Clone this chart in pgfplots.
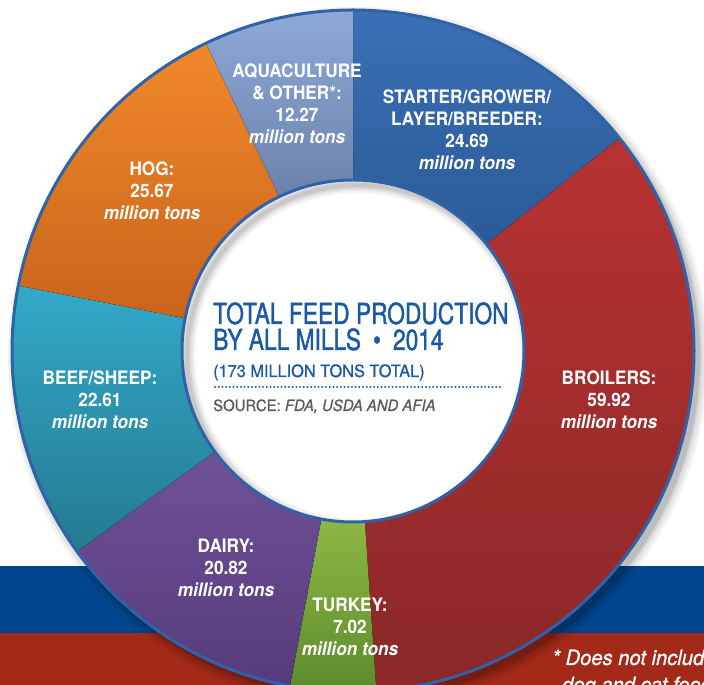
\documentclass[border=0pt]{standalone}
\usepackage{pgfplots}
\pgfplotsset{compat=1.18}
\usepackage{pgfplotstable}
\usepackage{fontspec}
\setmainfont{TeX Gyre Heros}
\newfontfamily\labfont{TeX Gyre Heros}[FakeStretch=0.93]
\newfontfamily\titfont{TeX Gyre Heros}[FakeStretch=0.785, FakeBold=1.3]
\newfontfamily\subfont{TeX Gyre Heros}[FakeStretch=0.96, FakeBold=0.8]

% slice colours, top and bottom of the shading
\definecolor{c0t}{HTML}{3A70B6}\definecolor{c0b}{HTML}{2B5A96}% starter
\definecolor{c1t}{HTML}{B83232}\definecolor{c1b}{HTML}{8A2828}% broilers
\definecolor{c2t}{HTML}{8DB843}\definecolor{c2b}{HTML}{5D8A2E}% turkey
\definecolor{c3t}{HTML}{6F5197}\definecolor{c3b}{HTML}{563C7C}% dairy
\definecolor{c4t}{HTML}{33A9C9}\definecolor{c4b}{HTML}{247A90}% beef/sheep
\definecolor{c5t}{HTML}{F0882A}\definecolor{c5b}{HTML}{C9641C}% hog
\definecolor{c6t}{HTML}{8EA9D8}\definecolor{c6b}{HTML}{6B82AB}% aquaculture
\definecolor{ringblue}{HTML}{2F62A8}
\definecolor{titblue}{HTML}{1A5AA5}
\definecolor{srcgray}{HTML}{5A5A5A}
\definecolor{bandblue}{HTML}{00468E}
\definecolor{bandred}{HTML}{A32A18}

% million tons, clockwise from twelve o'clock
\pgfplotstableread{
label    value
Starter  24.69
Broilers 59.92
Turkey   7.02
Dairy    20.82
Beef     22.61
Hog      25.67
Aqua     12.27
}\feed

\begin{document}
\begin{tikzpicture}
% angles of the slices from the table
\def\total{0}
\pgfplotsforeachungrouped \i in {0,...,6}{%
  \pgfplotstablegetelem{\i}{value}\of\feed
  \pgfmathsetmacro\total{\total+\pgfplotsretval}}
\def\acc{0}
\pgfplotsforeachungrouped \i in {0,...,6}{%
  \pgfmathsetmacro\sa{90-\acc/\total*360}%
  \pgfplotstablegetelem{\i}{value}\of\feed
  \pgfmathsetmacro\acc{\acc+\pgfplotsretval}%
  \pgfmathsetmacro\ea{90-\acc/\total*360}%
  \expandafter\xdef\csname sa\i\endcsname{\sa}%
  \expandafter\xdef\csname ea\i\endcsname{\ea}}

\begin{axis}[
  hide axis, scale only axis,
  width=704pt, height=685pt,
  xmin=0, xmax=704, ymin=0, ymax=685,
  clip=false]

  % bands at the bottom
  \fill[bandred] (axis cs:0,-10) rectangle (axis cs:704,52);
  \fill[bandblue] (axis cs:0,52) rectangle (axis cs:704,119);

  % soft shadow of the ring
  \fill[black, opacity=0.05] (axis cs:358,328) circle[radius=350pt];
  \fill[black, opacity=0.06] (axis cs:358,328) circle[radius=347pt];
  \fill[black, opacity=0.08] (axis cs:358,328) circle[radius=344pt];
  \fill[black, opacity=0.10] (axis cs:358,328) circle[radius=342pt];

  \pgfplotsinvokeforeach{0,...,6}{
    \fill[top color=c#1t, bottom color=c#1b]
      ([shift={(\csname sa#1\endcsname:341pt)}]axis cs:353,334)
      arc[start angle=\csname sa#1\endcsname, end angle=\csname ea#1\endcsname, radius=341pt]
      -- ([shift={(\csname ea#1\endcsname:171pt)}]axis cs:353,334)
      arc[start angle=\csname ea#1\endcsname, end angle=\csname sa#1\endcsname, radius=171pt]
      -- cycle;
  }

  \fill[white] (axis cs:353,334) circle[radius=171pt];
  \begin{scope}
    \clip (axis cs:353,334) circle[radius=171pt];
    \draw[black, opacity=0.05, line width=16pt] (axis cs:358,329) circle[radius=171pt];
    \draw[black, opacity=0.06, line width=11pt] (axis cs:358,329) circle[radius=171pt];
    \draw[black, opacity=0.06, line width=7pt] (axis cs:358,329) circle[radius=171pt];
    \draw[black, opacity=0.06, line width=4pt] (axis cs:358,329) circle[radius=171pt];
  \end{scope}
  \draw[ringblue, line width=3pt] (axis cs:353,334) circle[radius=341pt];
  \draw[ringblue, line width=3pt] (axis cs:353,334) circle[radius=171pt];

  % slice labels
  \tikzset{lab/.style={text=white, align=center, inner sep=0pt,
      font=\labfont\bfseries\fontsize{18.5}{22}\selectfont}}
  \node[lab] at (axis cs:297,581) {AQUACULTURE\\\& OTHER*:\\12.27\\\textit{million tons}};
  \node[lab] at (axis cs:467,555) {STARTER/GROWER/\\LAYER/BREEDER:\\24.69\\\textit{million tons}};
  \node[lab] at (axis cs:152,494) {HOG:\\25.67\\\textit{million tons}};
  \node[lab] at (axis cs:100,285) {BEEF/SHEEP:\\22.61\\\textit{million tons}};
  \node[lab] at (axis cs:609,285) {BROILERS:\\59.92\\\textit{million tons}};
  \node[lab] at (axis cs:226,117) {DAIRY:\\20.82\\\textit{million tons}};
  \node[lab] at (axis cs:350,58) {TURKEY:\\7.02\\\textit{million tons}};

  % centre text
  \node[anchor=base west, inner sep=0pt, text=titblue, font=\titfont\fontsize{29}{30}\selectfont]
    at (axis cs:213,361) {TOTAL FEED PRODUCTION};
  \node[anchor=base west, inner sep=0pt, text=titblue, font=\titfont\fontsize{29}{30}\selectfont]
    at (axis cs:213,335) {BY ALL MILLS\hspace{12pt}\textbullet\hspace{12pt}2014};
  \node[anchor=base west, inner sep=0pt, text=titblue, font=\subfont\fontsize{17}{18}\selectfont]
    at (axis cs:213,308) {(173 MILLION TONS TOTAL)};
  \draw[titblue, line width=2.2pt, line cap=round, dash pattern=on 0pt off 3.7pt]
    (axis cs:215,298) -- (axis cs:503,298);
  \node[anchor=base west, inner sep=0pt, text=srcgray, font=\subfont\fontsize{15.5}{16}\selectfont]
    at (axis cs:213,274) {SOURCE: \textit{FDA, USDA AND AFIA}};

  % footnote, cut by the edge of the picture
  \node[anchor=base west, inner sep=0pt, text=white, font=\subfont\itshape\fontsize{21}{22}\selectfont]
    at (axis cs:552,20) {* Does not include};
  \node[anchor=base west, inner sep=0pt, text=white, font=\subfont\itshape\fontsize{21}{22}\selectfont]
    at (axis cs:562,-7) {dog and cat food};
\end{axis}
\pgfresetboundingbox
\path (current axis.south west) rectangle (current axis.north east);
\end{tikzpicture}
\end{document}
